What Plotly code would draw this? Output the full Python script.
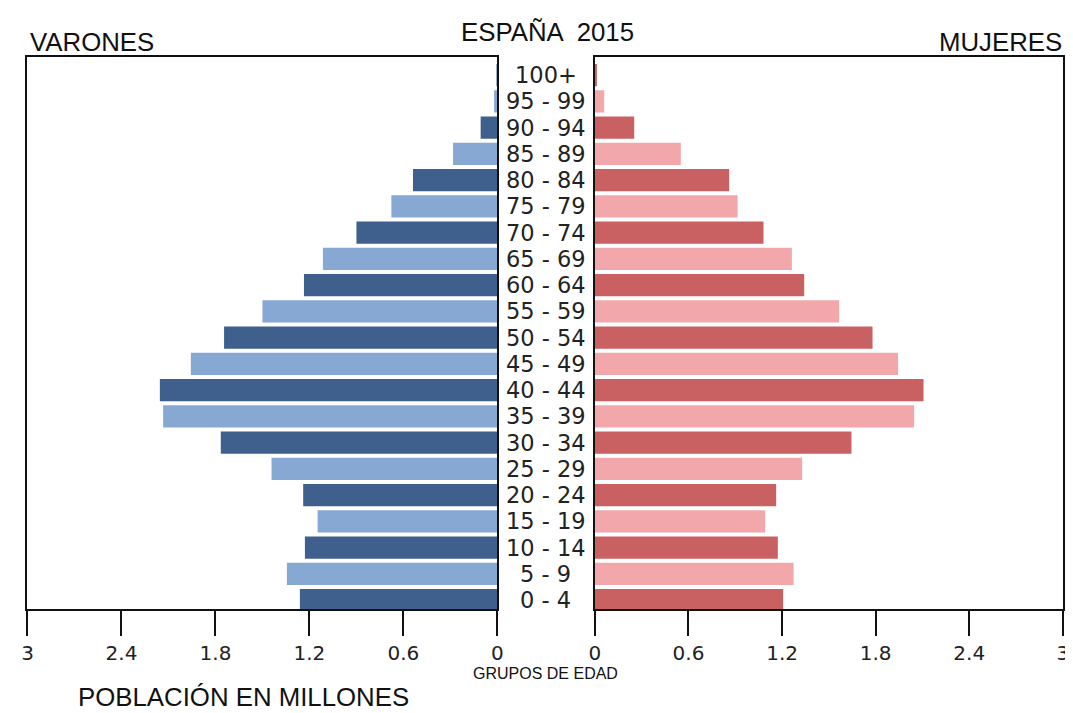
import plotly.graph_objects as go

age_groups = ["0 - 4", "5 - 9", "10 - 14", "15 - 19", "20 - 24", "25 - 29", "30 - 34",
              "35 - 39", "40 - 44", "45 - 49", "50 - 54", "55 - 59", "60 - 64", "65 - 69",
              "70 - 74", "75 - 79", "80 - 84", "85 - 89", "90 - 94", "95 - 99", "100+"]
varones = [1.261, 1.344, 1.229, 1.148, 1.24, 1.442, 1.766, 2.134, 2.155, 1.957, 1.745, 1.50, 1.235,
           1.114, 0.90, 0.677, 0.539, 0.283, 0.107, 0.021, 0.005]
mujeres = [1.207, 1.274, 1.173, 1.092, 1.162, 1.329, 1.645, 2.047, 2.107, 1.944, 1.78, 1.566, 1.342,
           1.263, 1.081, 0.915, 0.861, 0.551, 0.252, 0.06, 0.008]
tick_vals = [0, 0.6, 1.2, 1.8, 2.4, 3]
tick_text = ["0", "0.6", "1.2", "1.8", "2.4", "3"]

male_dark, male_light = "#3f5f8c", "#86a8d2"
fem_dark, fem_light = "#c96062", "#f2a8ab"
male_colors = [male_dark if i % 2 == 0 else male_light for i in range(len(age_groups))]
fem_colors = [fem_dark if i % 2 == 0 else fem_light for i in range(len(age_groups))]

# compensate for the page offset observed in the rendering
W, H = 1073, 705
XOFF, XSCALE, YOFF = 13.0, 0.989, 8.0
def px(x):
    return ((x - XOFF) / XSCALE) / W
def py(y):
    return 1 - (y - YOFF) / H

fig = go.Figure()
fig.add_trace(go.Bar(y=age_groups, x=varones, orientation="h", marker=dict(color=male_colors, line=dict(width=0)),
                     xaxis="x", yaxis="y", showlegend=False))
fig.add_trace(go.Bar(y=age_groups, x=mujeres, orientation="h", marker=dict(color=fem_colors, line=dict(width=0)),
                     xaxis="x2", yaxis="y2", showlegend=False))

tickfont = dict(family="DejaVu Sans", size=20, color="#222")
common_x = dict(tickvals=tick_vals, ticktext=tick_text, ticks="outside", ticklen=25, tickwidth=2,
                tickcolor="#111", showline=True, linecolor="#111", linewidth=2, mirror=True,
                showgrid=False, zeroline=False, tickfont=tickfont)
common_y = dict(type="category", categoryarray=age_groups, categoryorder="array",
                range=[-0.34, 20.69], showticklabels=False, ticks="", showline=True,
                linecolor="#111", linewidth=2, mirror=True, showgrid=False, zeroline=False)

fig.update_layout(
    width=W, height=H, margin=dict(l=0, r=0, t=0, b=0),
    paper_bgcolor="white", plot_bgcolor="white", bargap=0.15,
    xaxis=dict(domain=[px(26.5), px(496.5)], range=[3, 0], anchor="y", **common_x),
    xaxis2=dict(domain=[px(594), px(1062)], range=[0, 3], anchor="y2", **common_x),
    yaxis=dict(domain=[py(609), py(57)], anchor="x", **common_y),
    yaxis2=dict(domain=[py(609), py(57)], anchor="x2", matches="y", **common_y),
)

for g in age_groups:
    fig.add_annotation(x=px(545), xref="paper", y=g, yref="y", text=g, showarrow=False,
                       font=dict(family="DejaVu Sans", size=22.5, color="#222"), xanchor="center", yanchor="middle")

title_font = dict(family="Liberation Sans", size=25.8, color="#111")
fig.add_annotation(x=px(547), y=py(32), xref="paper", yref="paper", text="ESPAÑA  2015", showarrow=False,
                   font=title_font, xanchor="center", yanchor="middle")
fig.add_annotation(x=px(27), y=py(42), xref="paper", yref="paper", text="VARONES", showarrow=False,
                   font=title_font, xanchor="left", yanchor="middle")
fig.add_annotation(x=px(1063), y=py(42), xref="paper", yref="paper", text="MUJERES", showarrow=False,
                   font=title_font, xanchor="right", yanchor="middle")
fig.add_annotation(x=px(243), y=py(697), xref="paper", yref="paper", text="POBLACIÓN EN MILLONES", showarrow=False,
                   font=title_font, xanchor="center", yanchor="middle")
fig.add_annotation(x=px(545), y=py(673), xref="paper", yref="paper", text="GRUPOS DE EDAD", showarrow=False,
                   font=dict(family="Liberation Sans", size=16, color="#111"), xanchor="center", yanchor="middle")

fig.write_html("out.html")
